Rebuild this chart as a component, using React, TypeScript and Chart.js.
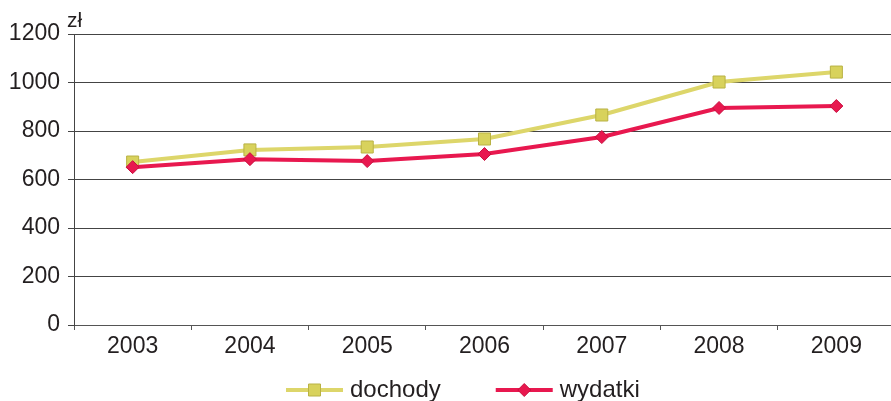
import React, { useEffect, useRef } from 'react';
import { Chart, registerables } from 'chart.js';

Chart.register(...registerables);

const years = ['2003', '2004', '2005', '2006', '2007', '2008', '2009'];
const dochody = [672, 722, 734, 767, 866, 1002, 1043];
const wydatki = [651, 684, 676, 705, 775, 895, 903];
const seriesNames = ['dochody', 'wydatki'];
const unitLabel = 'zł';
const yMin = 0;
const yMax = 1200;
const yStep = 200;

const FONT = '"Liberation Sans", Arial, sans-serif';
const TEXT = '#231f20';
const YELLOW = '#ddd66a';
const YELLOW_FILL = '#d8d25c';
const YELLOW_BORDER = '#b9b244';
const RED = '#e8184f';
const RED_BORDER = '#c8103f';

const customLegend = {
  id: 'customLegend',
  afterDraw(chart: any) {
    const ctx = chart.ctx;
    ctx.save();
    ctx.font = `24px ${FONT}`;
    const lineLen = 57;
    const textGap = 7;
    const itemGap = 55;
    const yLine = 390;
    let x = 286;
    const metas = [chart.data.datasets[0], chart.data.datasets[1]];
    metas.forEach((ds: any) => {
      ctx.strokeStyle = ds.borderColor;
      ctx.lineWidth = 4;
      ctx.beginPath();
      ctx.moveTo(x, yLine);
      ctx.lineTo(x + lineLen, yLine);
      ctx.stroke();
      const cx = x + lineLen / 2;
      ctx.fillStyle = ds.pointBackgroundColor;
      ctx.strokeStyle = ds.pointBorderColor;
      ctx.lineWidth = 1;
      ctx.beginPath();
      if (ds.pointStyle === 'rect') {
        ctx.rect(cx - 6, yLine - 6, 12, 12);
      } else {
        ctx.moveTo(cx - 6.5, yLine);
        ctx.lineTo(cx, yLine - 6.5);
        ctx.lineTo(cx + 6.5, yLine);
        ctx.lineTo(cx, yLine + 6.5);
        ctx.closePath();
      }
      ctx.fill();
      ctx.stroke();
      ctx.fillStyle = TEXT;
      ctx.textBaseline = 'alphabetic';
      ctx.textAlign = 'left';
      const tx = x + lineLen + textGap;
      ctx.fillText(ds.label, tx, 397);
      x = tx + ctx.measureText(ds.label).width + itemGap;
    });
    // unit label
    ctx.font = `21px ${FONT}`;
    ctx.fillText(unitLabel, chart.chartArea.left - 7, 27);
    ctx.restore();
  },
};

export default function App() {
  const ref = useRef<HTMLCanvasElement | null>(null);
  useEffect(() => {
    if (!ref.current) return;
    const chart = new Chart(ref.current, {
      type: 'line',
      data: {
        labels: years,
        datasets: [
          {
            label: seriesNames[0],
            data: dochody,
            borderColor: YELLOW,
            backgroundColor: YELLOW,
            borderWidth: 4,
            pointStyle: 'rect',
            pointRadius: 8.5,
            pointBackgroundColor: YELLOW_FILL,
            pointBorderColor: YELLOW_BORDER,
            pointBorderWidth: 1,
            tension: 0,
            fill: false,
            order: 1,
          },
          {
            label: seriesNames[1],
            data: wydatki,
            borderColor: RED,
            backgroundColor: RED,
            borderWidth: 4,
            pointStyle: 'rectRot',
            pointRadius: 6.5,
            pointBackgroundColor: RED,
            pointBorderColor: RED_BORDER,
            pointBorderWidth: 1,
            tension: 0,
            fill: false,
            order: 0,
          },
        ],
      },
      options: {
        responsive: false,
        animation: false,
        layout: { autoPadding: false, padding: { top: 34, bottom: 40, left: 0, right: 0 } },
        plugins: { legend: { display: false }, tooltip: { enabled: false } },
        scales: {
          x: {
            type: 'category',
            offset: true,
            grid: { offset: true, drawOnChartArea: false, drawTicks: true, tickLength: 5, color: '#555' },
            border: { display: true, color: '#555', width: 1 },
            ticks: { font: { size: 23, family: FONT }, color: TEXT, padding: 3, maxRotation: 0 },
            afterFit: (s: any) => { s.height = 36; },
          },
          y: {
            min: yMin,
            max: yMax,
            ticks: {
              stepSize: yStep,
              font: { size: 23, family: FONT },
              color: TEXT,
              padding: 8,
              callback: (v: any) => String(v),
            },
            grid: { color: '#444', tickLength: 6, lineWidth: 1 },
            border: { display: true, color: '#444', width: 1 },
            afterFit: (s: any) => { s.width = 74; },
          },
        },
      },
      plugins: [customLegend],
    });
    return () => chart.destroy();
  }, []);
  return (
    <div style={{ position: 'fixed', left: 0, top: 0, width: 891, height: 401, overflow: 'hidden', background: '#fff' }}>
      <canvas ref={ref} width={895} height={401} style={{ display: 'block', width: 895, height: 401 }} />
    </div>
  );
}
